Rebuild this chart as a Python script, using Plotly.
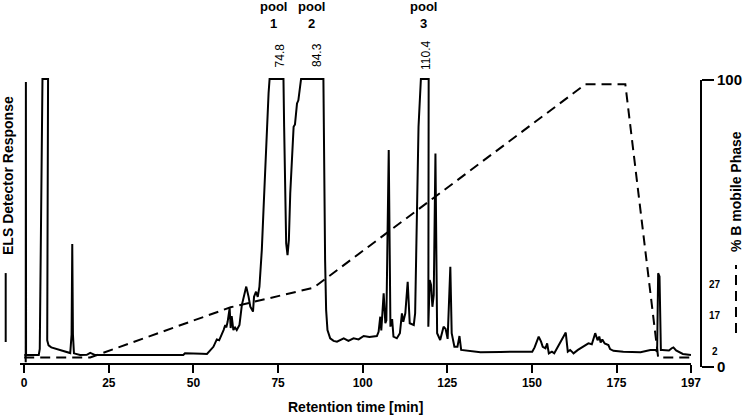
import plotly.graph_objects as go

# ---------------- data ----------------
# ELS detector trace (time in min, response in % of full scale; 100 = clipped)
time_min = [0.0, 0.4, 0.45, 0.5, 0.55, 4.3, 4.6, 5.4, 7.05, 6.8, 7.2, 8.0, 10.0, 12.5, 13.6,
            14.0, 14.2, 14.4, 14.7, 16.5, 18.5, 19.5, 20.5, 21.0, 47.0, 47.5, 52.5, 54.0,
            55.9, 56.9, 57.6, 58.4, 58.9, 59.4, 59.7, 60.1, 60.7, 61.0, 61.3, 61.8, 62.3,
            62.8, 63.6, 64.3, 64.8, 65.6, 66.3, 66.8, 67.6, 67.9, 68.5, 69.0, 69.5, 69.9,
            70.2, 70.7, 71.5, 72.2, 72.5, 76.6, 76.8, 77.1, 77.4, 77.8, 78.2, 78.6, 79.1,
            79.6, 80.0, 80.6, 81.0, 81.4, 81.8, 88.4, 88.6, 88.9, 89.2, 89.6, 90.4, 91.4,
            92.4, 93.4, 94.4, 95.8, 97.3, 98.8, 100.3, 102.0, 104.2, 104.7, 105.2, 105.5,
            106.2, 106.7, 107.0, 107.7, 108.2, 108.7, 109.1, 110.1, 111.0, 111.6, 112.0,
            112.6, 113.3, 113.9, 115.1, 115.5, 116.0, 116.5, 117.2, 119.5, 119.4, 119.8,
            120.2, 120.6, 121.0, 121.5, 122.0, 122.9, 123.9, 124.5, 125.1, 125.9, 126.3,
            127.1, 128.0, 128.6, 129.1, 134.8, 140.7, 150.1, 150.8, 151.6, 152.0, 152.7,
            153.2, 154.0, 154.5, 155.0, 155.9, 156.6, 157.7, 160.0, 160.6, 161.3, 161.8,
            162.3, 163.6, 165.2, 166.7, 167.7, 168.7, 169.4, 169.9, 170.3, 170.8, 171.5,
            172.6, 173.1, 174.1, 177.0, 182.1, 185.0, 186.5, 187.0, 187.3, 187.7, 188.1,
            188.5, 190.5, 191.3, 191.8, 192.6, 194.6, 197.0]
response = [2.8, 2.8, 0.3, 98.9, 2.8, 2.8, 5.0, 100, 100, 8.0, 6.2, 5.5, 4.8, 4.0, 3.5,
            10.0, 41.9, 10.0, 3.4, 2.8, 2.9, 3.6, 2.9, 2.8, 2.8, 3.4, 3.3, 3.2,
            5.7, 8.3, 8.0, 9.9, 11.6, 13.4, 12.5, 14.5, 19.3, 12.3, 16.5, 11.6, 12.5,
            11.6, 13.4, 20.4, 23.3, 26.9, 23.3, 19.8, 18.1, 23.3, 25.1, 23.3, 26.9, 32.7,
            39.8, 53.9, 77.3, 95.0, 100, 100, 83.2, 59.7, 42.1, 38.0, 43.3, 59.7, 73.8,
            83.2, 84.0, 91.4, 92.5, 96.1, 100, 100, 71.5, 36.3, 18.7, 11.6, 8.7, 7.8,
            7.5, 8.0, 8.7, 7.8, 8.7, 8.3, 9.5, 9.2, 9.5, 11.0, 16.3, 11.5,
            24.5, 14.0, 15.0, 75.0, 12.8, 15.5, 9.3, 8.7, 10.5, 17.5, 14.5,
            17.5, 28.6, 14.0, 13.4, 17.5, 57.4, 83.2, 100, 100, 12.8, 29.2,
            27.5, 19.8, 24.0, 73.8, 10.5, 8.1, 12.8, 12.0, 8.5, 33.9, 10.5,
            5.7, 5.7, 9.5, 4.6, 3.8, 3.9, 4.0, 5.5, 8.3, 9.3, 7.5,
            5.7, 5.2, 6.9, 3.4, 4.0, 3.4, 5.7, 10.7, 4.0, 4.6, 4.0,
            3.4, 4.6, 5.7, 6.9, 6.6, 10.5, 8.0, 9.3, 7.2, 8.3, 6.9,
            6.3, 4.9, 4.3, 4.0, 3.8, 4.6, 4.6, 4.0, 31.6, 30.5, 4.6,
            4.6, 4.4, 5.2, 5.5, 4.4, 3.2, 2.8]

# Mobile phase gradient (% B)
grad_time = [0, 19.5, 61.0, 85.5, 165.8, 177.6, 187.3, 197]
grad_b = [2, 2, 20, 27, 100, 100, 2, 2]

x_ticks = [0, 25, 50, 75, 100, 125, 150, 175, 197]
b_ticks = [0, 100]
b_marks = ["27", "17", "2"]
b_mark_pos = [28, 17, 4]

pool_names = ["1", "2", "3"]
pool_pos = [73.7, 85.0, 118.0]
peak_labels = ["74.8", "84.3", "110.4"]
peak_label_pos = [75.7, 86.5, 118.7]

FONT = "Liberation Sans, Arial, sans-serif"

fig = go.Figure()
fig.add_trace(go.Scatter(x=time_min, y=response, mode="lines",
                         line=dict(color="black", width=2), showlegend=False,
                         xaxis="x", yaxis="y"))
fig.add_trace(go.Scatter(x=grad_time, y=grad_b, mode="lines",
                         line=dict(color="black", width=2, dash="10px,6px"),
                         showlegend=False, xaxis="x", yaxis="y2"))
fig.add_trace(go.Scatter(x=[None], y=[None], mode="lines", showlegend=False,
                         xaxis="x", yaxis="y3", hoverinfo="skip"))

ann = []
for name, p in zip(pool_names, pool_pos):
    ann.append(dict(x=p, y=1.217, xref="x", yref="paper", text="pool<br>" + name,
                    showarrow=False, xanchor="center", yanchor="middle",
                    font=dict(family=FONT, size=13, color="black", weight="bold")))
for lab, p in zip(peak_labels, peak_label_pos):
    ann.append(dict(x=p, y=1.0796, xref="x", yref="paper", text=lab, showarrow=False,
                    xanchor="center", yanchor="middle",
                    textangle=-90, font=dict(family=FONT, size=12, color="black")))
for lab, p in zip(b_marks, b_mark_pos):
    ann.append(dict(x=1.0205, y=p, xref="paper", yref="y2", text=lab, showarrow=False,
                    xanchor="center", yanchor="middle",
                    font=dict(family=FONT, size=10, color="black", weight="bold")))
ann.append(dict(x=-0.0176, y=0.661, xref="paper", yref="paper",
                text="ELS Detector Response", textangle=-90, showarrow=False,
                xanchor="center", yanchor="middle",
                font=dict(family=FONT, size=14, color="black", weight="bold")))
ann.append(dict(x=1.0514, y=0.6055, xref="paper", yref="paper",
                text="% B mobile Phase", textangle=-90, showarrow=False,
                xanchor="center", yanchor="middle",
                font=dict(family=FONT, size=14, color="black", weight="bold")))
ann.append(dict(x=0.4925, y=-0.138, xref="paper", yref="paper",
                text="Retention time [min]", showarrow=False,
                xanchor="center", yanchor="middle",
                font=dict(family=FONT, size=14, color="black", weight="bold")))

shapes = [
    dict(type="line", xref="paper", yref="paper", x0=-0.021, x1=-0.021, y0=0.0865, y1=0.325,
         line=dict(color="black", width=2)),
    dict(type="line", xref="paper", yref="paper", x0=1.0514, x1=1.0514, y0=0.118, y1=0.353,
         line=dict(color="black", width=2, dash="10px,6px")),
]

fig.update_layout(
    template="none",
    width=745, height=415,
    margin=dict(l=20, r=44, t=78, b=48, autoexpand=False),
    paper_bgcolor="white", plot_bgcolor="rgba(0,0,0,0)",
    font=dict(family=FONT, color="black"),
    hovermode=False,
    xaxis=dict(domain=[0, 0.9853], range=[-1.24, 197.0], tickvals=x_ticks,
               ticks="outside", ticklen=8, tickwidth=2, tickcolor="black",
               showline=True, linewidth=2, linecolor="black", showgrid=False,
               zeroline=False, anchor="y", automargin=False,
               tickfont=dict(family=FONT, size=12, color="black", weight="bold")),
    yaxis=dict(domain=[0.01384, 1], range=[0, 100.35], visible=False,
               automargin=False),
    yaxis2=dict(overlaying="y", range=[0, 102.26], visible=False, automargin=False),
    yaxis3=dict(domain=[0, 0.9931], range=[0, 100], anchor="free", position=1,
                side="right", tickvals=b_ticks, ticks="outside", ticklen=12,
                tickwidth=2, tickcolor="black", showline=True, linewidth=2,
                linecolor="black", showgrid=False, zeroline=False, automargin=False,
                tickfont=dict(family=FONT, size=15, color="black", weight="bold")),
    annotations=ann, shapes=shapes,
)

fig.write_html("out.html", config={"displayModeBar": False, "staticPlot": True},
               post_script="document.body.style.margin='0px';")
